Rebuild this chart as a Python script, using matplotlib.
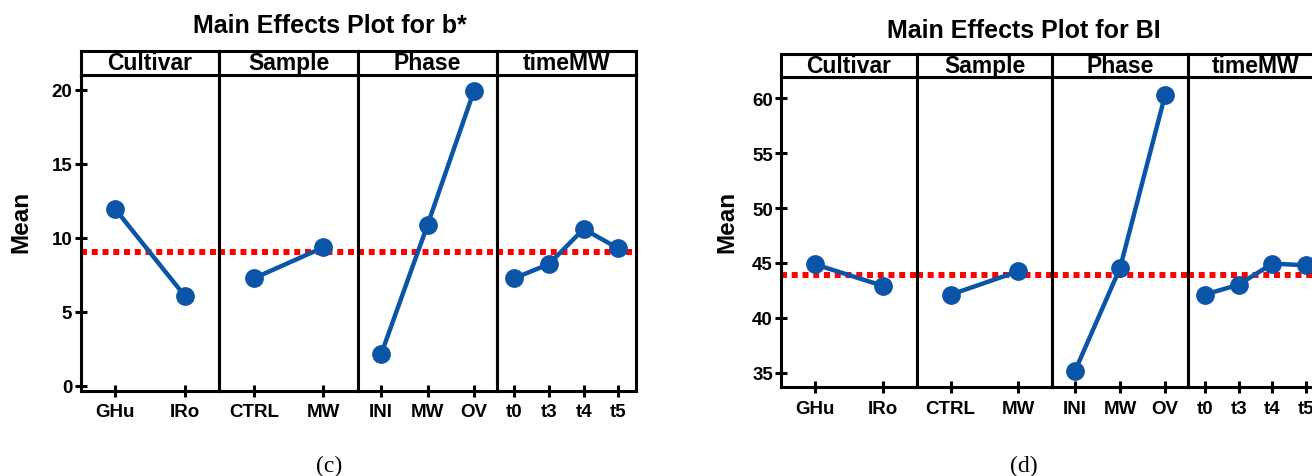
import matplotlib.pyplot as plt

plt.rcParams['font.family'] = ['Liberation Sans', 'DejaVu Sans']
plt.rcParams['font.weight'] = 'bold'

factors = ['Cultivar', 'Sample', 'Phase', 'timeMW']
levels = [['GHu', 'IRo'], ['CTRL', 'MW'], ['INI', 'MW', 'OV'], ['t0', 't3', 't4', 't5']]

# b* means per factor level
b_cultivar = [11.94, 6.08]
b_sample = [7.26, 9.35]
b_phase = [2.14, 10.86, 19.89]
b_time = [7.26, 8.22, 10.59, 9.28]
b_grand = 9.05
b_ticks = [0, 5, 10, 15, 20]

# BI means per factor level
bi_cultivar = [44.87, 42.91]
bi_sample = [42.11, 44.24]
bi_phase = [35.13, 44.54, 60.33]
bi_time = [42.11, 43.02, 44.94, 44.78]
bi_grand = 43.93
bi_ticks = [35, 40, 45, 50, 55, 60]

BLUE = '#0b55a9'
W, H = 1312, 477
fig = plt.figure(figsize=(W / 100, H / 100), dpi=100)


def px_rect(x0, y0, x1, y1):
    # pixel box with top-left origin -> figure fraction [l, b, w, h]
    return [x0 / W, 1 - y1 / H, (x1 - x0) / W, (y1 - y0) / H]


def effects_plot(means, grand, yticks, ylim, left, pw, strip_top, top, bottom,
                 title, title_xy, tag, tag_x, ylab_x):
    for i, (fac, labs, vals) in enumerate(zip(factors, levels, means)):
        x0 = left + i * pw
        ax = fig.add_axes(px_rect(x0, top, x0 + pw, bottom))
        xs = list(range(1, len(labs) + 1))
        ax.axhline(grand, color='red', lw=4.3, ls=(0, (1, 0.8)), zorder=1)
        ax.plot(xs, vals, color=BLUE, lw=3.2, marker='o', ms=12.5, zorder=3,
                solid_capstyle='round')
        ax.set_xlim(0.5, len(labs) + 0.5)
        ax.set_ylim(ylim)
        ax.set_xticks(xs, labs)
        ax.tick_params(axis='x', direction='inout', length=8, width=2.2,
                       labelsize=13.5, pad=5)
        if i == 0:
            ax.set_yticks(yticks)
            ax.tick_params(axis='y', direction='inout', length=8, width=2.2,
                           labelsize=13.5, pad=2)
        else:
            ax.set_yticks([])
        for sp in ax.spines.values():
            sp.set_linewidth(2.2)
        for lab in ax.get_xticklabels() + ax.get_yticklabels():
            lab.set_fontweight('bold')

        # factor strip above each panel
        st = fig.add_axes(px_rect(x0, strip_top, x0 + pw, top))
        st.set_xticks([])
        st.set_yticks([])
        for sp in st.spines.values():
            sp.set_linewidth(2.2)
        st.text(0.5, 0.5, fac, ha='center', va='center', fontsize=16.5,
                fontweight='bold', transform=st.transAxes)

    fig.text(title_xy[0] / W, 1 - title_xy[1] / H, title, ha='center',
             va='center', fontsize=18, fontweight='bold')
    fig.text(ylab_x / W, 1 - 222 / H, 'Mean', rotation=90, ha='center',
             va='center', fontsize=17.5, fontweight='bold')
    fig.text(tag_x / W, 1 - 466 / H, tag, ha='center', va='center',
             fontsize=17, fontweight='normal',
             family=['Liberation Serif', 'DejaVu Serif'])


effects_plot([b_cultivar, b_sample, b_phase, b_time], b_grand, b_ticks,
             (-0.34, 21.0), 80.5, 138.8, 51.7, 76, 391.7,
             'Main Effects Plot for b*', (330, 26), '(c)', 329, 21)

effects_plot([bi_cultivar, bi_sample, bi_phase, bi_time], bi_grand, bi_ticks,
             (33.67, 61.91), 781.3, 135.5, 55, 78.3, 388.3,
             'Main Effects Plot for BI', (1024, 31), '(d)', 1024, 726.5)

fig.savefig('out.png', dpi=100, facecolor='white')
